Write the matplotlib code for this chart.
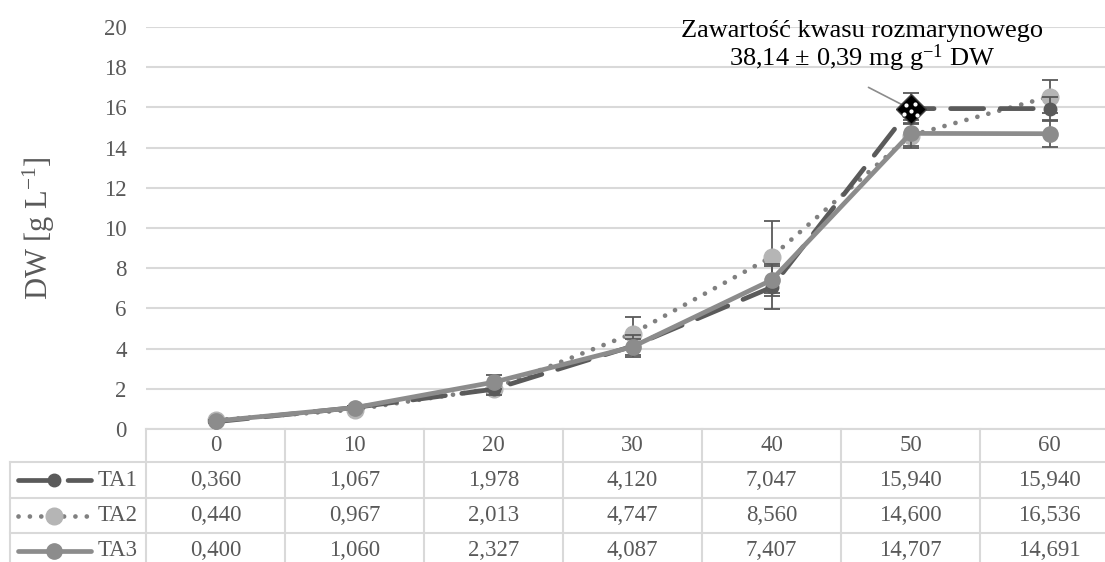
import matplotlib
matplotlib.use("Agg")
import matplotlib.pyplot as plt
from matplotlib.lines import Line2D

plt.rcParams['font.family'] = ['Liberation Serif', 'DejaVu Serif']
plt.rcParams['mathtext.fontset'] = 'custom'
plt.rcParams['mathtext.rm'] = 'Liberation Serif'
plt.rcParams['mathtext.default'] = 'regular'

# Culture time [days]
days = [0, 10, 20, 30, 40, 50, 60]
series_names = ["TA1", "TA2", "TA3"]
ta1 = [0.360, 1.067, 1.978, 4.120, 7.047, 15.940, 15.940]
ta2 = [0.440, 0.967, 2.013, 4.747, 8.560, 14.600, 16.536]
ta3 = [0.400, 1.060, 2.327, 4.087, 7.407, 14.707, 14.691]
ta1_err = [0.05, 0.08, 0.30, 0.54, 1.08, 0.76, 0.60]
ta2_err = [0.05, 0.08, 0.25, 0.82, 1.80, 0.60, 0.82]
ta3_err = [0.05, 0.08, 0.35, 0.40, 0.80, 0.65, 0.66]
yticks = [0, 2, 4, 6, 8, 10, 12, 14, 16, 18, 20]
note_text = "Zawartość kwasu rozmarynowego\n38,14 ± 0,39 mg g$^{-1}$ DW"

TXT = "#595959"
GRID = "#d9d9d9"
C1, C2L, C2M, C3 = "#5a5a5a", "#808080", "#b5b5b5", "#8c8c8c"
FS = 16.5

W, H = 1105, 562
fig = plt.figure(figsize=(W / 100, H / 100), dpi=100)
left_px, right_px, top_px, bot_px = 146, 1119, 27, 429
ax = fig.add_axes([left_px / W, 1 - bot_px / H, (right_px - left_px) / W,
                   (bot_px - top_px) / H])

x = list(range(len(days)))

# series lines
styles = [
    dict(y=ta2, e=ta2_err, color=C2L, mfc=C2M, ls=(0, (0.01, 2.4)), ms=12, z=3),
    dict(y=ta1, e=ta1_err, color=C1, mfc=C1, ls=(0, (7, 3.5)), ms=9, z=4),
    dict(y=ta3, e=ta3_err, color=C3, mfc=C3, ls='-', ms=11, z=5),
]
for s in styles:
    ax.errorbar(x, s['y'], yerr=s['e'], fmt='none', ecolor=TXT, elinewidth=1.3,
                capsize=6, capthick=1.3, zorder=s['z'] - 0.5)
    ax.plot(x, s['y'], color=s['color'], lw=3.4, ls=s['ls'],
            dash_capstyle='round', solid_capstyle='round',
            marker='o', ms=s['ms'], mfc=s['mfc'], mec=s['mfc'], zorder=s['z'])

# highlighted point (TA1, day 50)
ax.plot([x[5]], [ta1[5]], marker='D', ms=15, mfc='black', mec='#404040',
        mew=1, zorder=7)
ax.plot([x[5] - 0.03, x[5] + 0.03, x[5], x[5] - 0.05, x[5] + 0.05],
        [ta1[5] + 0.2, ta1[5] + 0.25, ta1[5] - 0.1, ta1[5] - 0.25, ta1[5] - 0.3],
        ls='none', marker='o', ms=2, color='white', zorder=8)
ax.annotate('', xy=(x[5] - 0.02, ta1[5] + 0.05), xytext=(4.68, 17.06),
            arrowprops=dict(arrowstyle='-', color='#8c8c8c', lw=1.2), zorder=6)
ax.text(4.65, 19.0, note_text, ha='center', va='center', fontsize=19,
        color='black', linespacing=1.05, zorder=9)

ax.set_xlim(-0.5, len(days) - 0.5)
ax.set_ylim(0, 20)
ax.set_yticks(yticks)
ax.set_yticklabels([str(v) for v in yticks], fontsize=FS, color=TXT)
ax.tick_params(axis='y', length=0, pad=14)
ax.tick_params(axis='x', length=0, labelbottom=False)
ax.grid(axis='y', color=GRID, lw=1.5)
ax.set_axisbelow(True)
for sp in ax.spines.values():
    sp.set_visible(False)
ax.set_ylabel("DW [g L$^{-1}$]", fontsize=22, color=TXT, labelpad=34)

# data table below the plot
tr = ax.get_xaxis_transform()
ph = bot_px - top_px
rows_px = [429, 462, 498, 533, 569]
rows = [-(r - bot_px) / ph for r in rows_px]
xl = -0.5 - (left_px - 10) / 139.0
x_end = len(days) - 0.5
lkw = dict(color=GRID, lw=1.5, transform=tr, clip_on=False, zorder=1)
ax.plot([-0.5, x_end], [rows[0], rows[0]], **lkw)
for r in rows[1:4]:
    ax.plot([xl, x_end], [r, r], **lkw)
for k in range(len(days) + 1):
    ax.plot([k - 0.5, k - 0.5], [rows[0], rows[4]], **lkw)
ax.plot([xl, xl], [rows[1], rows[4]], **lkw)

for i, d in enumerate(days):
    ax.text(i, (rows[0] + rows[1]) / 2, str(d), transform=tr, ha='center',
            va='center', fontsize=FS, color=TXT, clip_on=False)

table_vals = [ta1, ta2, ta3]
for r, vals in enumerate(table_vals):
    yc = (rows[r + 1] + rows[r + 2]) / 2
    for i, v in enumerate(vals):
        ax.text(i, yc, f"{v:.3f}".replace('.', ','), transform=tr,
                ha='center', va='center', fontsize=FS, color=TXT,
                clip_on=False)
    ax.text(-0.56, yc, series_names[r], transform=tr, ha='right', va='center',
            fontsize=FS, color=TXT, clip_on=False)
    s = [styles[1], styles[0], styles[2]][r]
    kx0, kx1, km = xl + 0.06, xl + 0.58, xl + 0.32
    ax.add_line(Line2D([kx0, kx1], [yc, yc], color=s['color'], lw=3.4, ls=s['ls'],
                       dash_capstyle='round', solid_capstyle='round',
                       transform=tr, clip_on=False))
    ax.add_line(Line2D([km], [yc], marker='o', ms=s['ms'], mfc=s['mfc'],
                       mec=s['mfc'], transform=tr, clip_on=False))

fig.savefig("out.png", dpi=100)
